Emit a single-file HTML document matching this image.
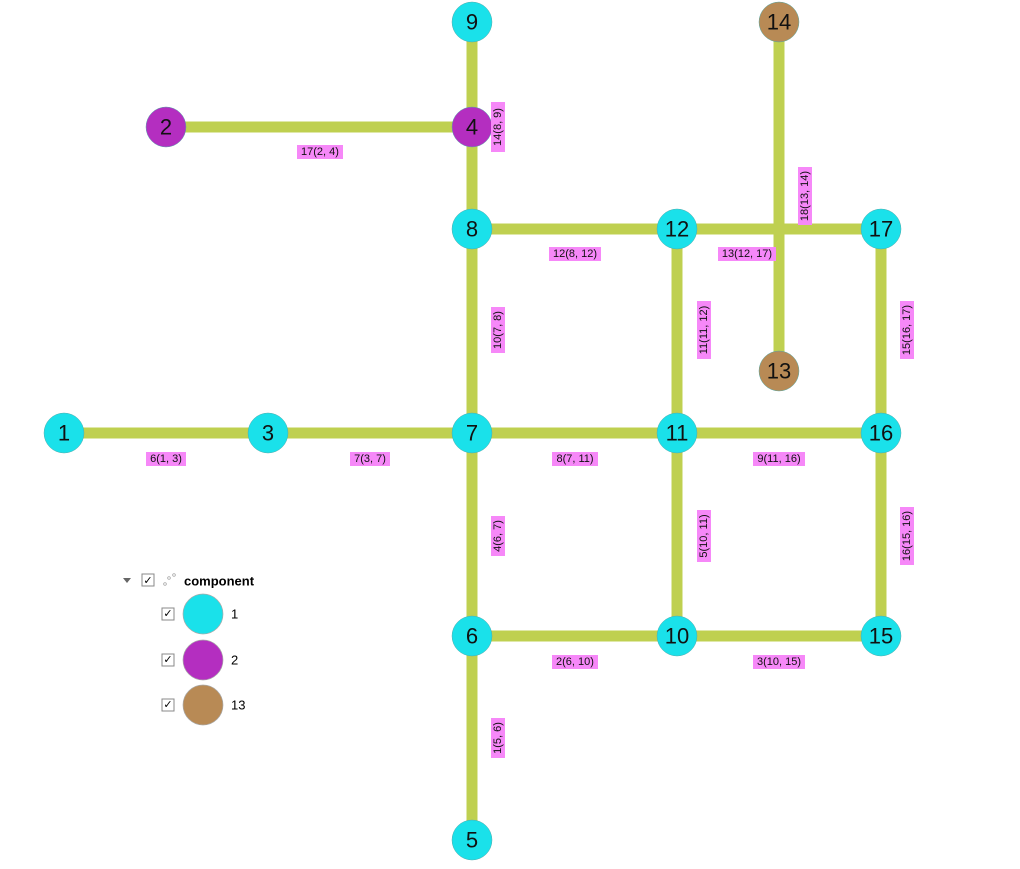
<!DOCTYPE html>
<html><head><meta charset="utf-8"><style>
html,body{margin:0;padding:0;background:#fff;}
svg{display:block;font-family:"Liberation Sans","DejaVu Sans",sans-serif;}
.e{stroke:#bfd050;stroke-width:11;}
.n{stroke:#5aa;stroke-width:0.5;}
.t{font-size:22px;text-anchor:middle;dominant-baseline:central;fill:#111;}
.l{font-size:11px;text-anchor:middle;dominant-baseline:central;fill:#111;}
</style></head><body>
<svg width="1020" height="869" viewBox="0 0 1020 869">
<g class="e">
<line x1="472" y1="22" x2="472" y2="840"/>
<line x1="166" y1="127" x2="472" y2="127"/>
<line x1="472" y1="229" x2="881" y2="229"/>
<line x1="64" y1="433" x2="881" y2="433"/>
<line x1="472" y1="636" x2="881" y2="636"/>
<line x1="677" y1="229" x2="677" y2="636"/>
<line x1="881" y1="229" x2="881" y2="636"/>
<line x1="779" y1="22" x2="779" y2="371"/>
</g>
<g id="labels"></g>
<g>
<circle class="n" cx="472" cy="22" r="20" fill="#1ae1ea"/><text class="t" x="472" y="22">9</text>
<circle class="n" cx="779" cy="22" r="20" fill="#b88a55"/><text class="t" x="779" y="22">14</text>
<circle class="n" cx="166" cy="127" r="20" fill="#b42ec0"/><text class="t" x="166" y="127">2</text>
<circle class="n" cx="472" cy="127" r="20" fill="#b42ec0"/><text class="t" x="472" y="127">4</text>
<circle class="n" cx="472" cy="229" r="20" fill="#1ae1ea"/><text class="t" x="472" y="229">8</text>
<circle class="n" cx="677" cy="229" r="20" fill="#1ae1ea"/><text class="t" x="677" y="229">12</text>
<circle class="n" cx="881" cy="229" r="20" fill="#1ae1ea"/><text class="t" x="881" y="229">17</text>
<circle class="n" cx="779" cy="371" r="20" fill="#b88a55"/><text class="t" x="779" y="371">13</text>
<circle class="n" cx="64" cy="433" r="20" fill="#1ae1ea"/><text class="t" x="64" y="433">1</text>
<circle class="n" cx="268" cy="433" r="20" fill="#1ae1ea"/><text class="t" x="268" y="433">3</text>
<circle class="n" cx="472" cy="433" r="20" fill="#1ae1ea"/><text class="t" x="472" y="433">7</text>
<circle class="n" cx="677" cy="433" r="20" fill="#1ae1ea"/><text class="t" x="677" y="433">11</text>
<circle class="n" cx="881" cy="433" r="20" fill="#1ae1ea"/><text class="t" x="881" y="433">16</text>
<circle class="n" cx="472" cy="636" r="20" fill="#1ae1ea"/><text class="t" x="472" y="636">6</text>
<circle class="n" cx="677" cy="636" r="20" fill="#1ae1ea"/><text class="t" x="677" y="636">10</text>
<circle class="n" cx="881" cy="636" r="20" fill="#1ae1ea"/><text class="t" x="881" y="636">15</text>
<circle class="n" cx="472" cy="840" r="20" fill="#1ae1ea"/><text class="t" x="472" y="840">5</text>
</g>
<!-- horizontal labels -->
<g>
<rect x="297" y="145" width="46" height="14" fill="#f688f8"/><text class="l" x="320" y="152">17(2, 4)</text>
<rect x="549" y="247" width="52" height="14" fill="#f688f8"/><text class="l" x="575" y="254">12(8, 12)</text>
<rect x="718" y="247" width="58" height="14" fill="#f688f8"/><text class="l" x="747" y="254">13(12, 17)</text>
<rect x="146" y="452" width="40" height="14" fill="#f688f8"/><text class="l" x="166" y="459">6(1, 3)</text>
<rect x="350" y="452" width="40" height="14" fill="#f688f8"/><text class="l" x="370" y="459">7(3, 7)</text>
<rect x="552" y="452" width="46" height="14" fill="#f688f8"/><text class="l" x="575" y="459">8(7, 11)</text>
<rect x="753" y="452" width="52" height="14" fill="#f688f8"/><text class="l" x="779" y="459">9(11, 16)</text>
<rect x="552" y="655" width="46" height="14" fill="#f688f8"/><text class="l" x="575" y="662">2(6, 10)</text>
<rect x="753" y="655" width="52" height="14" fill="#f688f8"/><text class="l" x="779" y="662">3(10, 15)</text>
</g>
<!-- vertical labels -->
<g transform="translate(498,127) rotate(-90)"><rect x="-25" y="-7" width="50" height="14" fill="#f688f8"/><text class="l" x="0" y="0">14(8, 9)</text></g>
<g transform="translate(805,196) rotate(-90)"><rect x="-29" y="-7" width="58" height="14" fill="#f688f8"/><text class="l" x="0" y="0">18(13, 14)</text></g>
<g transform="translate(498,330) rotate(-90)"><rect x="-23" y="-7" width="46" height="14" fill="#f688f8"/><text class="l" x="0" y="0">10(7, 8)</text></g>
<g transform="translate(704,330) rotate(-90)"><rect x="-29" y="-7" width="58" height="14" fill="#f688f8"/><text class="l" x="0" y="0">11(11, 12)</text></g>
<g transform="translate(907,330) rotate(-90)"><rect x="-29" y="-7" width="58" height="14" fill="#f688f8"/><text class="l" x="0" y="0">15(16, 17)</text></g>
<g transform="translate(498,536) rotate(-90)"><rect x="-20" y="-7" width="40" height="14" fill="#f688f8"/><text class="l" x="0" y="0">4(6, 7)</text></g>
<g transform="translate(704,536) rotate(-90)"><rect x="-26" y="-7" width="52" height="14" fill="#f688f8"/><text class="l" x="0" y="0">5(10, 11)</text></g>
<g transform="translate(907,536) rotate(-90)"><rect x="-29" y="-7" width="58" height="14" fill="#f688f8"/><text class="l" x="0" y="0">16(15, 16)</text></g>
<g transform="translate(498,738) rotate(-90)"><rect x="-20" y="-7" width="40" height="14" fill="#f688f8"/><text class="l" x="0" y="0">1(5, 6)</text></g>
<!-- legend -->
<g>
<polygon points="123,578 131,578 127,583" fill="#666"/>
<rect x="142" y="574" width="12" height="12" fill="#fff" stroke="#888"/>
<text x="148" y="581" font-size="11" text-anchor="middle" dominant-baseline="central">✓</text>
<circle cx="165" cy="584" r="1.3" fill="none" stroke="#999" stroke-width="0.7"/>
<circle cx="169" cy="578" r="1.3" fill="none" stroke="#999" stroke-width="0.7"/>
<circle cx="174" cy="575" r="1.3" fill="none" stroke="#999" stroke-width="0.7"/>
<text x="184" y="581" font-size="13" font-weight="bold" dominant-baseline="central">component</text>
<rect x="162" y="608" width="12" height="12" fill="#fff" stroke="#888"/><text x="168" y="614" font-size="11" text-anchor="middle" dominant-baseline="central">✓</text>
<circle cx="203" cy="614" r="20" fill="#1ae1ea" stroke="#aaa" stroke-width="0.7"/><text x="231" y="614" font-size="13" dominant-baseline="central">1</text>
<rect x="162" y="654" width="12" height="12" fill="#fff" stroke="#888"/><text x="168" y="660" font-size="11" text-anchor="middle" dominant-baseline="central">✓</text>
<circle cx="203" cy="660" r="20" fill="#b42ec0" stroke="#aaa" stroke-width="0.7"/><text x="231" y="660" font-size="13" dominant-baseline="central">2</text>
<rect x="162" y="699" width="12" height="12" fill="#fff" stroke="#888"/><text x="168" y="705" font-size="11" text-anchor="middle" dominant-baseline="central">✓</text>
<circle cx="203" cy="705" r="20" fill="#b88a55" stroke="#aaa" stroke-width="0.7"/><text x="231" y="705" font-size="13" dominant-baseline="central">13</text>
</g>
</svg>
</body></html>
